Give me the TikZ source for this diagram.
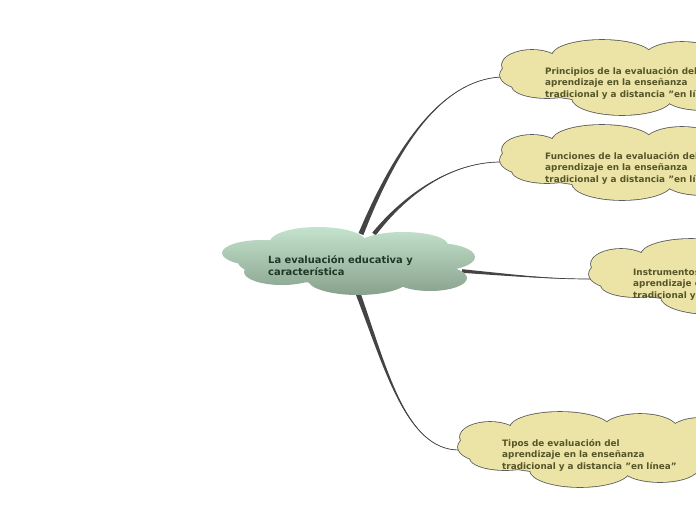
\documentclass[tikz,border=0pt]{standalone}
\usepackage{fontspec}
\setmainfont{DejaVu Sans}
\usetikzlibrary{calc}
\definecolor{yfill}{HTML}{ECE4A6}
\definecolor{yline}{HTML}{5A5A5A}
\definecolor{ytext}{HTML}{55552A}
\definecolor{gtop}{HTML}{C4E3CD}
\definecolor{gbot}{HTML}{88A18D}
\definecolor{gtext}{HTML}{1E3826}
\definecolor{conn}{HTML}{444444}
\tikzset{
  ytxt/.style={anchor=base west, inner sep=0pt, font=\bfseries\fontsize{8.85}{11.5}\selectfont, text=ytext},
  ctxt/.style={anchor=base west, inner sep=0pt, font=\bfseries\fontsize{9.9}{12}\selectfont, text=gtext},
  connline/.style={draw=conn, line width=0.7pt},
  yborder/.style={draw=yline, line width=1.6pt},
}
\def\ylobes{32/35/32/15, 32/25/30/15, 102/16/50/16, 182/18/38/16, 242/22/32/16, 47/46/35/12, 122/58/50/17, 202/56/38/14, 260/52/30/14, 140/38/125/25}
\newcommand\ycloud[2]{%
  \begin{scope}[shift={(#1,#2)}]
    \foreach \cx/\cy/\rx/\ry in \ylobes {\path[yborder] (\cx,\cy) ellipse [x radius=\rx, y radius=\ry];}
    \foreach \cx/\cy/\rx/\ry in \ylobes {\fill[yfill] (\cx,\cy) ellipse [x radius=\rx, y radius=\ry];}
  \end{scope}}
% #1 start, #2 control 1, #3 control 2, #4 end, #5 half-width offset vector
\newcommand\taper[5]{%
  \fill[conn] ($(#1)-(#5)$) .. controls ($(#2)-0.5*(#5)$) and (#3) .. (#4)
     .. controls (#3) and ($(#2)+0.5*(#5)$) .. ($(#1)+(#5)$) -- cycle;
  \draw[connline] (#1) .. controls (#2) and (#3) .. (#4);}
\newcommand\lns[3]{\begin{tabular}[t]{@{}l@{}}#1\\#2\\#3\end{tabular}}
\begin{document}
\begin{tikzpicture}[x=1pt,y=-1pt]
\useasboundingbox (0,0) rectangle (696,520);
\clip (0,0) rectangle (696,520);
\fill[white] (0,0) rectangle (696,520);
% connector end points
\coordinate (c-o1) at (361,234);
\coordinate (c-o2) at (374,234);
\coordinate (c-o3) at (462,271);
\coordinate (c-o4) at (356,288);
\coordinate (n1-in) at (501,77);
\coordinate (n2-in) at (501,162);
\coordinate (n3-in) at (591,279);
\coordinate (n4-in) at (459,450);
% connectors
\taper{c-o1}{395,150}{440,80}{n1-in}{2.4,1.0}
\taper{c-o2}{405,195}{450,162}{n2-in}{1.7,1.4}
\taper{c-o3}{520,276}{550,279}{n3-in}{0,1.8}
\taper{c-o4}{385,365}{405,450}{n4-in}{2.4,-0.9}
% central cloud
\shade[top color=gtop, bottom color=gbot]
  (262,253) ellipse [x radius=40, y radius=13]
  (318,242) ellipse [x radius=48, y radius=15]
  (403,245) ellipse [x radius=45, y radius=13]
  (435,257) ellipse [x radius=40, y radius=14]
  (282,272) ellipse [x radius=38, y radius=13]
  (358,280) ellipse [x radius=50, y radius=15]
  (430,278) ellipse [x radius=37, y radius=13]
  (348,262) ellipse [x radius=110, y radius=22];
\node[ctxt] (c) at (268,263) {\begin{tabular}[t]{@{}l@{}}La evaluación educativa y\\característica\end{tabular}};
% yellow clouds
\ycloud{500}{40}
\ycloud{500}{125}
\ycloud{589}{239}
\ycloud{458}{412}
\node[ytxt] (n1) at (545,74) {\lns{Principios de la evaluación del}{aprendizaje en la enseñanza}{tradicional y a distancia "en línea"}};
\node[ytxt] (n2) at (545,159) {\lns{Funciones de la evaluación del}{aprendizaje en la enseñanza}{tradicional y a distancia "en línea"}};
\node[ytxt] (n3) at (633,275) {\lns{Instrumentos de evaluación del}{aprendizaje en la enseñanza}{tradicional y a distancia "en línea"}};
\node[ytxt] (n4) at (502,446) {\lns{Tipos de evaluación del}{aprendizaje en la enseñanza}{tradicional y a distancia "en línea"}};
\end{tikzpicture}
\end{document}
